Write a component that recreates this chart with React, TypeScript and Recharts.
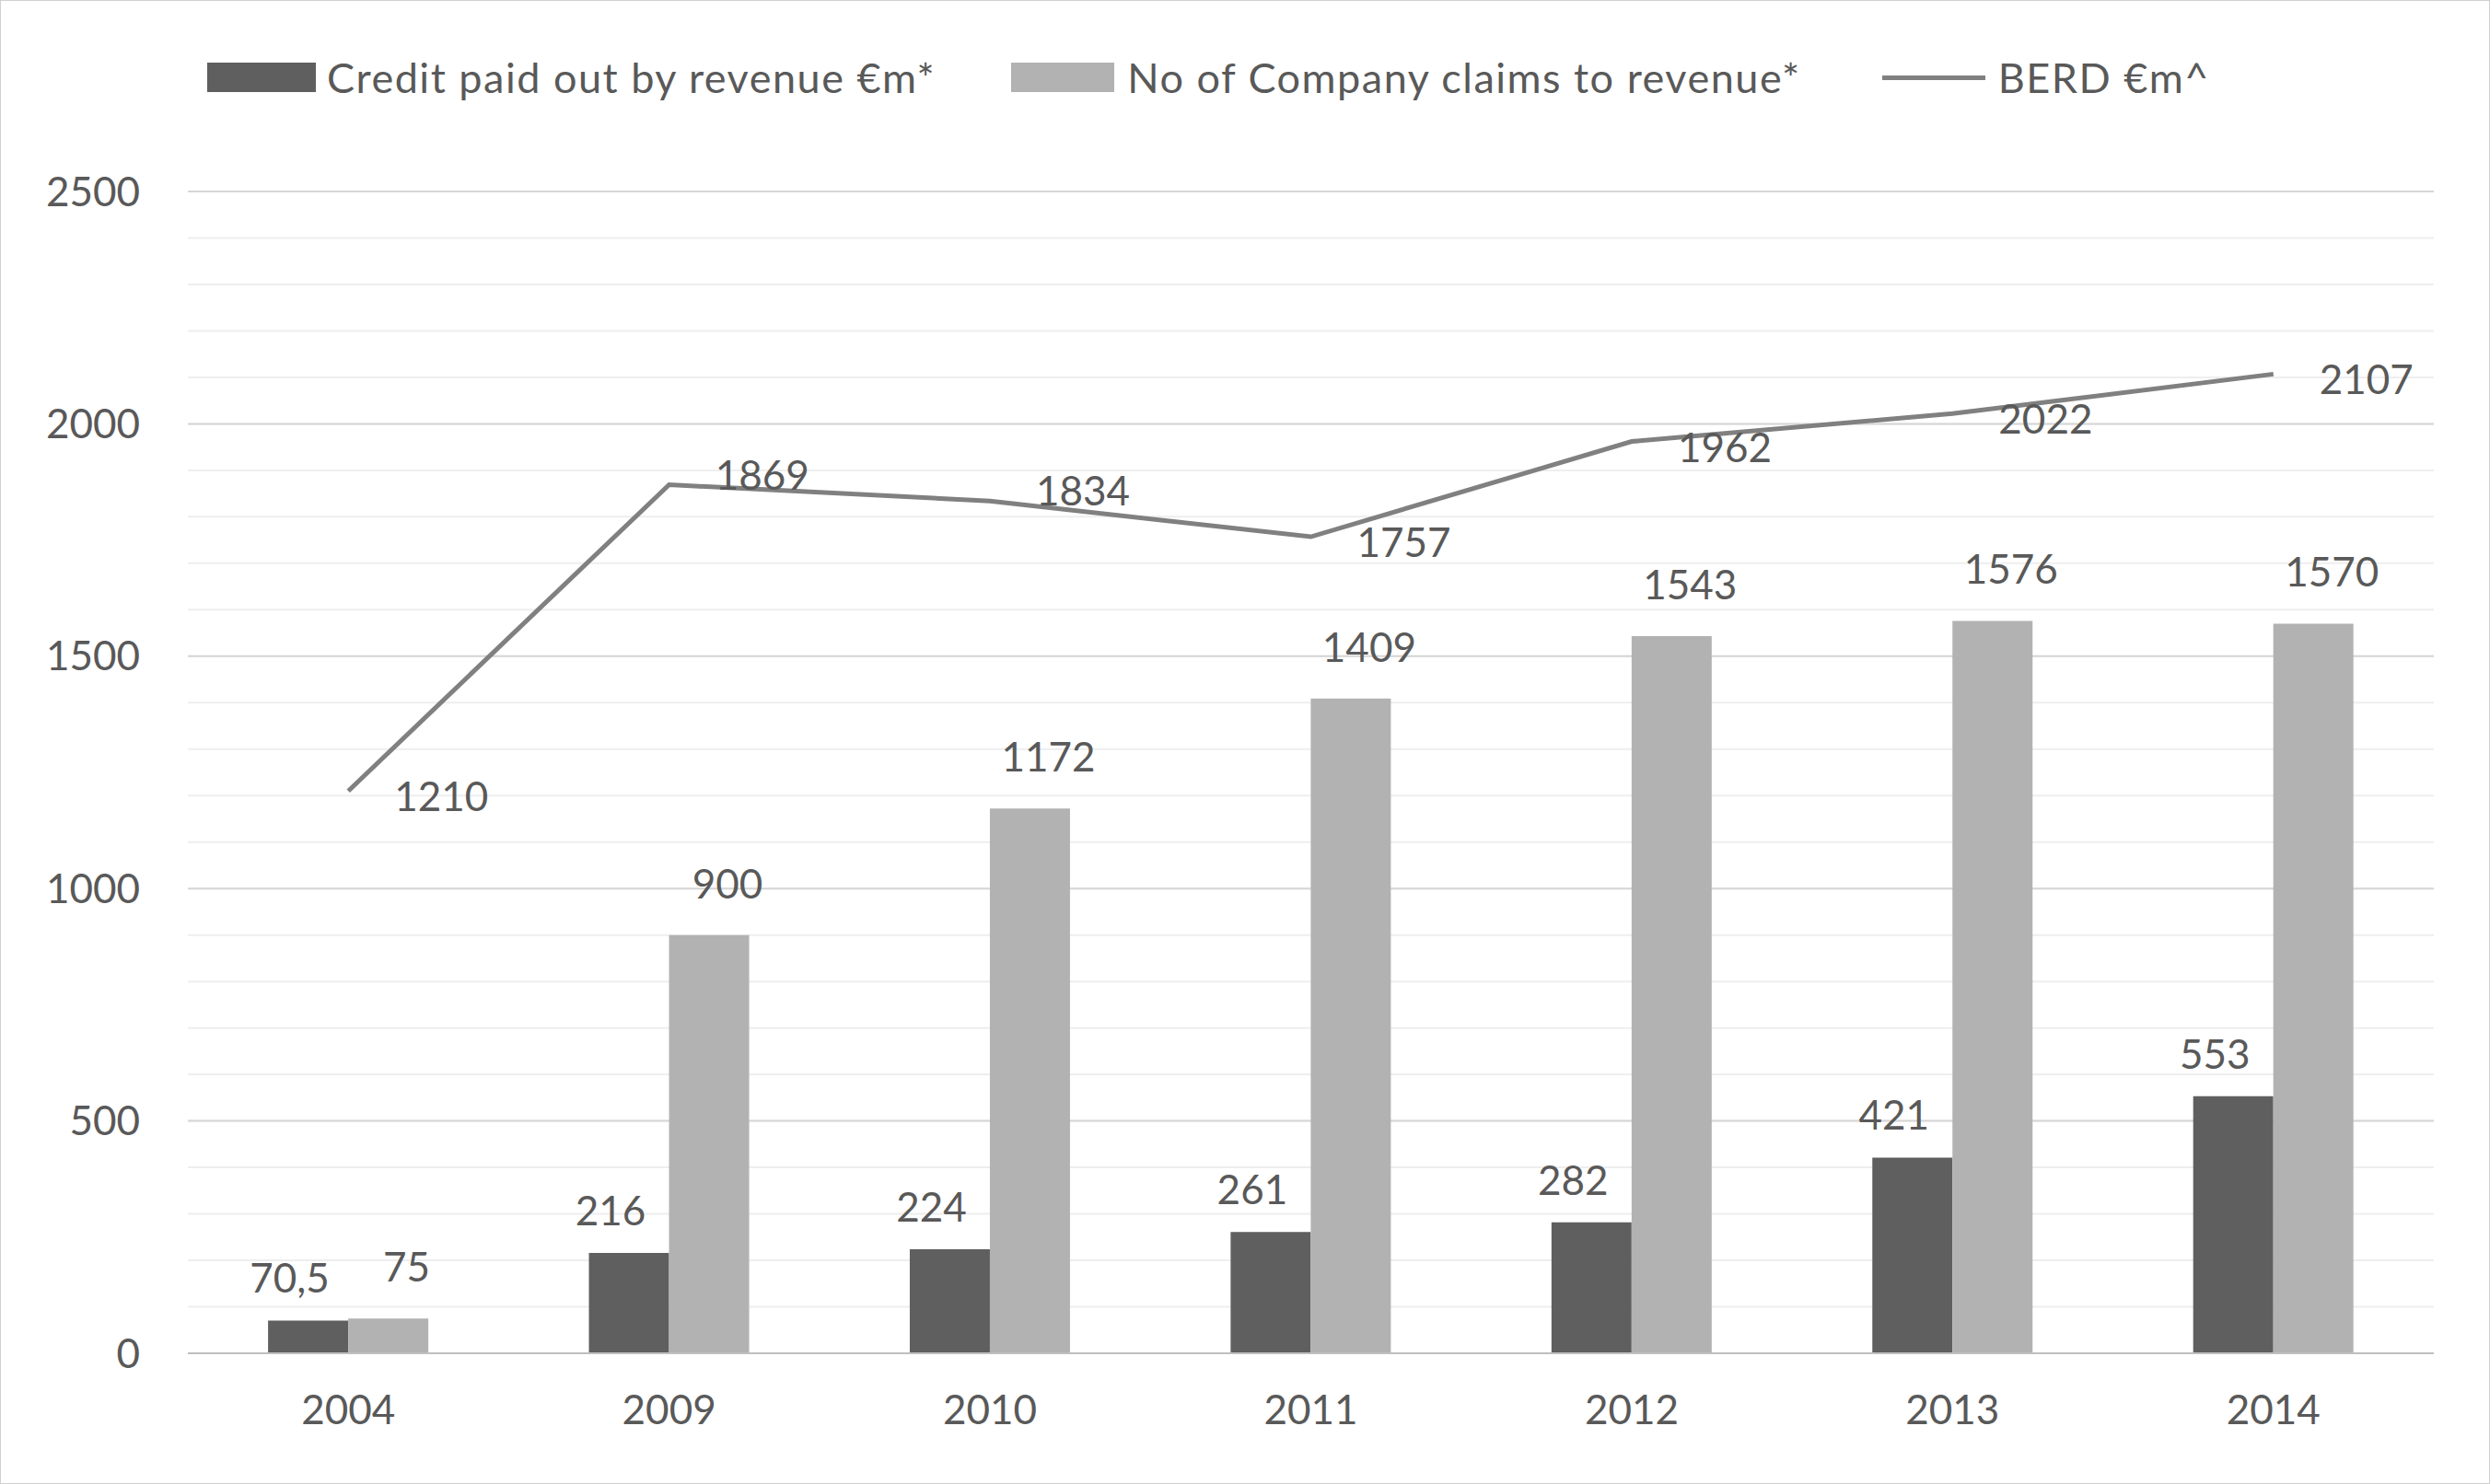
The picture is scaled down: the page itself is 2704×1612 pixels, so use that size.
import React from 'react';
import { ComposedChart, Bar, Line, XAxis, YAxis, CartesianGrid, LabelList } from 'recharts';

const years = ['2004', '2009', '2010', '2011', '2012', '2013', '2014'];
const credit = [70.5, 216, 224, 261, 282, 421, 553];
const claims = [75, 900, 1172, 1409, 1543, 1576, 1570];
const berd = [1210, 1869, 1834, 1757, 1962, 2022, 2107];
const majorTicks = [0, 500, 1000, 1500, 2000, 2500];
const minorTicks = Array.from({ length: 26 }, (_, i) => i * 100);

const data = years.map((y, i) => ({ year: y, credit: credit[i], claims: claims[i], berd: berd[i] }));

const FONT = 'Lato, "Open Sans", sans-serif';
const TXT = '#595959';

const berdLabel = (props: any) => {
    const { x, y, value, index } = props;
    return (
        <text x={x + 50} y={y} dy={index === 1 || index === 2 ? 5 : 22} fill={TXT} fontSize={44} fontFamily={FONT}>
            {String(value)}
        </text>
    );
};

const creditLabel = (props: any) => {
    const { x, y, width, value } = props;
    return (
        <text x={x + width / 2 - 20} y={y - 30} textAnchor="middle" fill={TXT} fontSize={44} fontFamily={FONT}>
            {String(value).replace('.', ',')}
        </text>
    );
};

const claimsLabel = (props: any) => {
    const { x, y, width, value } = props;
    return (
        <text x={x + width / 2 + 20} y={y - 40} textAnchor="middle" fill={TXT} fontSize={44} fontFamily={FONT}>
            {String(value)}
        </text>
    );
};

export default function App() {
    return (
        <div style={{ position: 'absolute', left: 0, top: 0, width: 2702, height: 1610, border: '1px solid #d0d0d0', background: '#fff', fontFamily: FONT }}>
            {/* Legend */}
            <div style={{ position: 'absolute', top: 56, left: 224, display: 'flex', alignItems: 'center', fontSize: 45, letterSpacing: 1.5, color: TXT }}>
                <div style={{ width: 118, height: 32, background: '#5f5f5f', marginRight: 12 }} />
                <span style={{ marginRight: 82 }}>Credit paid out by revenue €m*</span>
                <div style={{ width: 112, height: 32, background: '#b2b2b2', marginRight: 14 }} />
                <span style={{ marginRight: 88 }}>No of Company claims to revenue*</span>
                <div style={{ width: 112, height: 5, background: '#808080', marginRight: 14 }} />
                <span>BERD €m^</span>
            </div>
            <ComposedChart width={2704} height={1612} data={data} margin={{ top: 207, right: 62, left: 0, bottom: 0 }} barCategoryGap="25%" barGap={0}>
                <CartesianGrid vertical={false} horizontalValues={minorTicks} stroke="#eeeeee" strokeWidth={2} />
                <CartesianGrid vertical={false} horizontalValues={majorTicks} stroke="#d6d6d6" strokeWidth={2} />
                <XAxis dataKey="year" height={143} tickLine={false} stroke="#bfbfbf" strokeWidth={2}
                    tick={{ fill: TXT, fontSize: 44, fontFamily: FONT }} tickMargin={40} />
                <YAxis width={203} domain={[0, 2500]} ticks={majorTicks} axisLine={false} tickLine={false} tickSize={0} tickMargin={52}
                    tick={{ fill: TXT, fontSize: 44, fontFamily: FONT }} />
                <Bar dataKey="credit" fill="#5f5f5f" isAnimationActive={false}>
                    <LabelList dataKey="credit" content={creditLabel} />
                </Bar>
                <Bar dataKey="claims" fill="#b2b2b2" isAnimationActive={false}>
                    <LabelList dataKey="claims" content={claimsLabel} />
                </Bar>
                <Line dataKey="berd" type="linear" stroke="#808080" strokeWidth={5} dot={false} isAnimationActive={false}>
                    <LabelList dataKey="berd" content={berdLabel} />
                </Line>
            </ComposedChart>
        </div>
    );
}
